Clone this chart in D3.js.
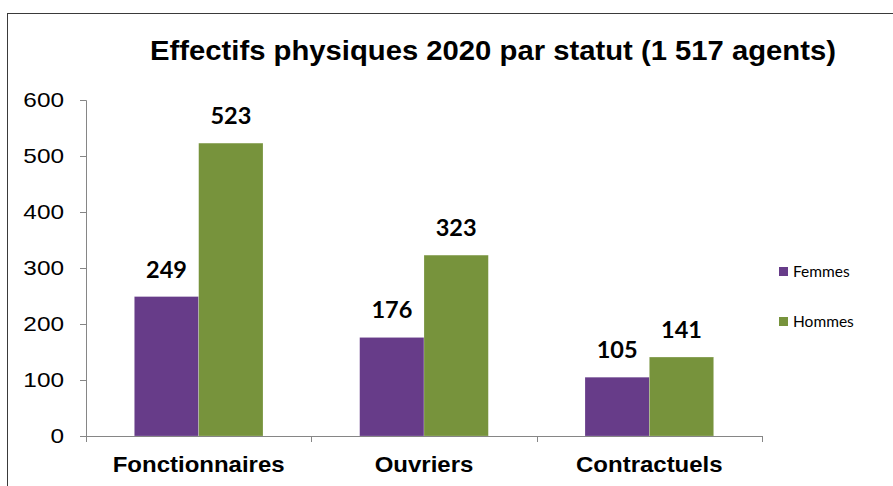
<!DOCTYPE html>
<html><head><meta charset="utf-8">
<script src="https://cdn.jsdelivr.net/npm/d3@7"></script>
<style>html,body{margin:0;padding:0;background:#fff;}svg{display:block;}</style>
</head><body>
<svg id="chart" width="893" height="486"></svg>
<script>
const title = "Effectifs physiques 2020 par statut (1 517 agents)";
const categories = ["Fonctionnaires", "Ouvriers", "Contractuels"];
const seriesNames = ["Femmes", "Hommes"];
const femmes = [249, 176, 105];
const hommes = [523, 323, 141];
const yTicks = [0, 100, 200, 300, 400, 500, 600];
const colors = ["#673C89", "#77933C"];

const seriesValues = [femmes, hommes];
const svg = d3.select("#chart");

function stretch(sel, k) {
  sel.each(function () {
    const w = this.getComputedTextLength();
    d3.select(this).attr("textLength", w * k).attr("lengthAdjust", "spacingAndGlyphs");
  });
}

svg.append("rect").attr("x", 7.5).attr("y", 13.5).attr("width", 900).attr("height", 500)
  .attr("fill", "#fff").attr("stroke", "#3a3a3a").attr("stroke-width", 1);

const plotLeft = 86, plotRight = 762, plotTop = 100, plotBottom = 436;
const y = d3.scaleLinear().domain([0, 600]).range([plotBottom, plotTop]);
const x0 = d3.scaleBand().domain(categories).range([plotLeft, plotRight]).paddingInner(0.429).paddingOuter(0.2145);
const x1 = d3.scaleBand().domain(seriesNames).range([0, x0.bandwidth()]);

svg.append("text").attr("x", 493).attr("y", 60).attr("text-anchor", "middle")
  .attr("font-family", "Liberation Sans, Arial, sans-serif").attr("font-weight", "bold")
  .attr("font-size", 27).attr("fill", "#000").text(title)
  .attr("textLength", 686).attr("lengthAdjust", "spacingAndGlyphs");

// bars
categories.forEach((c, i) => {
  seriesNames.forEach((s, j) => {
    const v = seriesValues[j][i];
    svg.append("rect")
      .attr("x", x0(c) + x1(s)).attr("y", y(v))
      .attr("width", x1.bandwidth()).attr("height", y(0) - y(v))
      .attr("fill", colors[j]).attr("stroke", "rgba(255,255,255,0.35)").attr("stroke-width", 0.6);
    svg.append("text")
      .attr("x", x0(c) + x1(s) + x1.bandwidth() / 2).attr("y", y(v) - 19)
      .attr("text-anchor", "middle")
      .attr("font-family", "Lato, Carlito, sans-serif").attr("font-weight", "bold")
      .attr("font-size", 23.5).attr("fill", "#000").text(v);
  });
});

// y axis
const yAxis = svg.append("g").attr("transform", `translate(${plotLeft},0)`)
  .call(d3.axisLeft(y).tickValues(yTicks).tickSize(6).tickPadding(16));
yAxis.selectAll("path,line").attr("stroke", "#868686");
yAxis.selectAll("text").attr("font-family", "Liberation Sans, Arial, sans-serif")
  .attr("font-size", 21).attr("fill", "#000").call(stretch, 1.16);
yAxis.select(".domain").attr("d", `M-6,${plotTop}.5H0.5V${plotBottom}.5`);

// x axis
const xg = svg.append("g");
xg.append("line").attr("x1", plotLeft - 6).attr("x2", plotRight + 0.5).attr("y1", plotBottom + 0.5).attr("y2", plotBottom + 0.5)
  .attr("stroke", "#868686");
const bounds = [plotLeft, ...categories.map(c => x0(c) + x0.bandwidth() + x0.step() * x0.paddingInner() / 2)];
bounds.forEach((b, i) => {
  const bx = i === 3 ? plotRight : b;
  xg.append("line").attr("x1", Math.round(bx) + 0.5).attr("x2", Math.round(bx) + 0.5)
    .attr("y1", plotBottom).attr("y2", plotBottom + 6).attr("stroke", "#868686");
});
categories.forEach(c => {
  xg.append("text").attr("x", x0(c) + x0.bandwidth() / 2).attr("y", 472)
    .attr("text-anchor", "middle")
    .attr("font-family", "Liberation Sans, Arial, sans-serif").attr("font-weight", "bold")
    .attr("font-size", 22).attr("fill", "#000").text(c)
    .call(stretch, 1.09);
});

// legend
const legY = [271.5, 321.5];
seriesNames.forEach((s, j) => {
  svg.append("rect").attr("x", 779).attr("y", legY[j] - 4.5).attr("width", 9).attr("height", 9).attr("fill", colors[j]);
  svg.append("text").attr("x", 793).attr("y", legY[j] + 5)
    .attr("font-family", "Lato, Carlito, sans-serif").attr("font-size", 15.5).attr("fill", "#000").text(s);
});
</script>
</body></html>
